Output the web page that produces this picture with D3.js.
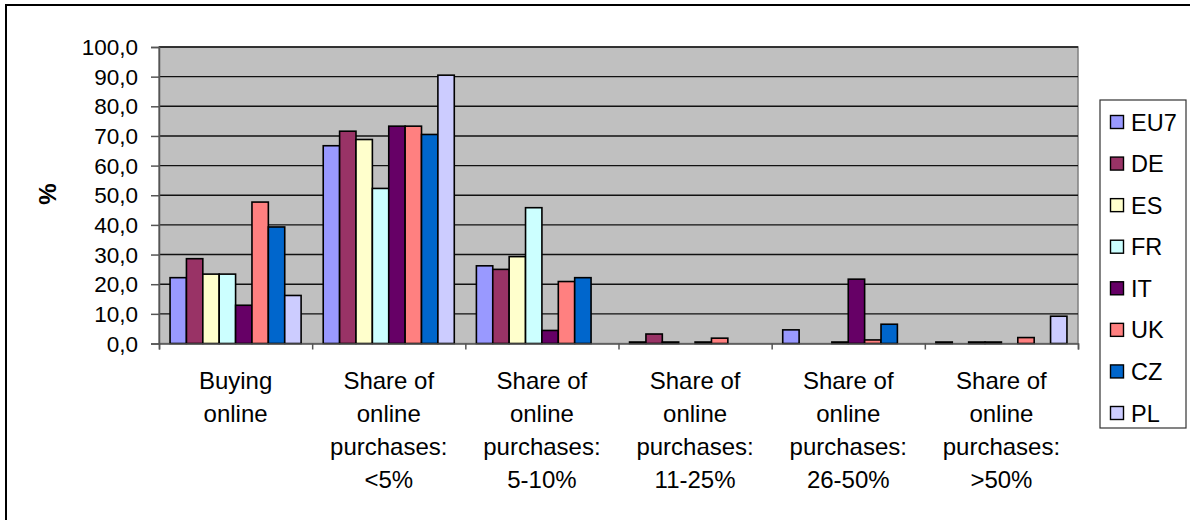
<!DOCTYPE html>
<html>
<head>
<meta charset="utf-8">
<script src="https://cdn.jsdelivr.net/npm/d3@7/dist/d3.min.js"></script>
<style>
  html, body { margin: 0; padding: 0; background: #fff; }
  svg { display: block; font-family: "Liberation Sans", Arial, sans-serif; }
</style>
</head>
<body>
<svg id="chart" width="1190" height="520"></svg>
<script>
// Categories (each drawn on several lines under the axis)
const categories = [
  ["Buying", "online"],
  ["Share of", "online", "purchases:", "<5%"],
  ["Share of", "online", "purchases:", "5-10%"],
  ["Share of", "online", "purchases:", "11-25%"],
  ["Share of", "online", "purchases:", "26-50%"],
  ["Share of", "online", "purchases:", ">50%"]
];

const seriesNames = ["EU7", "DE", "ES", "FR", "IT", "UK", "CZ", "PL"];
const seriesColors = ["#9999FF", "#993366", "#FFFFCC", "#CCFFFF", "#660066", "#FF8080", "#0066CC", "#CCCCFF"];

// Percent values per series, one per category (null = no bar)
const EU7 = [22.2, 66.7, 26.2, 0.5, 4.6, 0.5];
const DE  = [28.6, 71.6, 25.0, 3.2, null, null];
const ES  = [23.4, 68.8, 29.3, 0.5, null, 0.5];
const FR  = [23.4, 52.3, 45.8, null, 0.5, 0.5];
const IT  = [12.9, 73.3, 4.4, 0.5, 21.7, null];
const UK  = [47.7, 73.3, 20.9, 1.8, 1.2, 2.0];
const CZ  = [39.3, 70.5, 22.2, null, 6.5, null];
const PL  = [16.2, 90.5, null, null, null, 9.2];
const seriesValues = [EU7, DE, ES, FR, IT, UK, CZ, PL];

const yTicks = [0, 10, 20, 30, 40, 50, 60, 70, 80, 90, 100];

const svg = d3.select("#chart");

// Outer chart frame
svg.append("rect")
  .attr("x", 6).attr("y", 5).attr("width", 1200).attr("height", 530)
  .attr("fill", "none").attr("stroke", "#000").attr("stroke-width", 2);

const plot = { left: 159, right: 1078, top: 47, bottom: 343.5 };

const x0 = d3.scaleBand()
  .domain(d3.range(categories.length))
  .range([plot.left, plot.right])
  .paddingInner(0).paddingOuter(0);

// Bars within a group: 8 bars plus a gap shared half on each side
const gapRatio = 1.35;
const x1 = d3.scaleBand()
  .domain(d3.range(seriesNames.length))
  .range([0, x0.bandwidth()])
  .paddingInner(0)
  .paddingOuter(gapRatio / 2)
  .align(0.5);

const y = d3.scaleLinear().domain([0, 100]).range([plot.bottom, plot.top]);

// Plot background
svg.append("rect")
  .attr("x", plot.left).attr("y", plot.top)
  .attr("width", plot.right - plot.left).attr("height", plot.bottom - plot.top)
  .attr("fill", "#C0C0C0").attr("stroke", "#808080").attr("stroke-width", 1.5);

// Horizontal gridlines
svg.append("g")
  .selectAll("line")
  .data(yTicks.filter(d => d > 0))
  .join("line")
  .attr("x1", plot.left).attr("x2", plot.right)
  .attr("y1", d => y(d)).attr("y2", d => y(d))
  .attr("stroke", "#111").attr("stroke-width", 1.4);

// Bars
const groups = svg.append("g")
  .selectAll("g")
  .data(categories.map((c, i) => i))
  .join("g")
  .attr("transform", i => `translate(${x0(i)},0)`);

groups.selectAll("rect")
  .data(i => seriesValues.map((vals, s) => ({ s, v: vals[i] })).filter(d => d.v != null))
  .join("rect")
  .attr("x", d => x1(d.s))
  .attr("width", x1.bandwidth())
  .attr("y", d => y(d.v))
  .attr("height", d => y(0) - y(d.v))
  .attr("fill", d => seriesColors[d.s])
  .attr("stroke", "#000").attr("stroke-width", 1.6);

// Y axis
const yAxis = d3.axisLeft(y)
  .tickValues(yTicks)
  .tickSize(8)
  .tickPadding(13)
  .tickFormat(d => d3.format(".1f")(d).replace(".", ","));

const gy = svg.append("g")
  .attr("transform", `translate(${plot.left},0)`)
  .call(yAxis);
gy.select(".domain").attr("stroke", "#555").attr("stroke-width", 1.5);
gy.selectAll(".tick line").attr("stroke", "#555").attr("stroke-width", 1.5);
gy.selectAll(".tick text")
  .attr("font-size", 22.5).attr("fill", "#000")
  .attr("dy", "0.34em")
  .attr("font-family", "'Liberation Sans', Arial, sans-serif");

// X axis (group boundaries as ticks)
const xb = d3.scaleLinear().domain([0, categories.length]).range([plot.left, plot.right]);
const gx = svg.append("g")
  .attr("transform", `translate(0,${plot.bottom})`)
  .call(d3.axisBottom(xb).tickValues(d3.range(categories.length + 1)).tickSize(6).tickFormat(""));
gx.select(".domain").attr("stroke", "#555").attr("stroke-width", 1.5);
gx.selectAll(".tick line").attr("stroke", "#555").attr("stroke-width", 1.5);

// Category labels
svg.append("g")
  .selectAll("text")
  .data(categories.map((lines, i) => ({ lines, i })))
  .join("text")
  .attr("text-anchor", "middle")
  .attr("font-size", 24)
  .attr("fill", "#000")
  .each(function (d) {
    const t = d3.select(this);
    d.lines.forEach((ln, k) => {
      t.append("tspan")
        .attr("x", x0(d.i) + x0.bandwidth() / 2)
        .attr("y", 389 + k * 33)
        .text(ln);
    });
  });

// Y axis title
svg.append("text")
  .attr("transform", "translate(56,194) rotate(-90)")
  .attr("text-anchor", "middle")
  .attr("font-size", 24).attr("font-weight", "bold")
  .text("%");

// Legend
const legend = svg.append("g");
legend.append("rect")
  .attr("x", 1100).attr("y", 100).attr("width", 86).attr("height", 328)
  .attr("fill", "#fff").attr("stroke", "#333").attr("stroke-width", 1.2);

const ly = d3.scalePoint().domain(seriesNames).range([122, 413]);
const items = legend.selectAll("g.item")
  .data(seriesNames)
  .join("g")
  .attr("class", "item")
  .attr("transform", d => `translate(1110,${ly(d)})`);
items.append("rect")
  .attr("x", 0.5).attr("y", -6.5).attr("width", 13).attr("height", 13)
  .attr("fill", (d, i) => seriesColors[i])
  .attr("stroke", "#000").attr("stroke-width", 1.4);
items.append("text")
  .attr("x", 21).attr("y", 8.5)
  .attr("font-size", 23.5).attr("fill", "#000")
  .text(d => d);
</script>
</body>
</html>
